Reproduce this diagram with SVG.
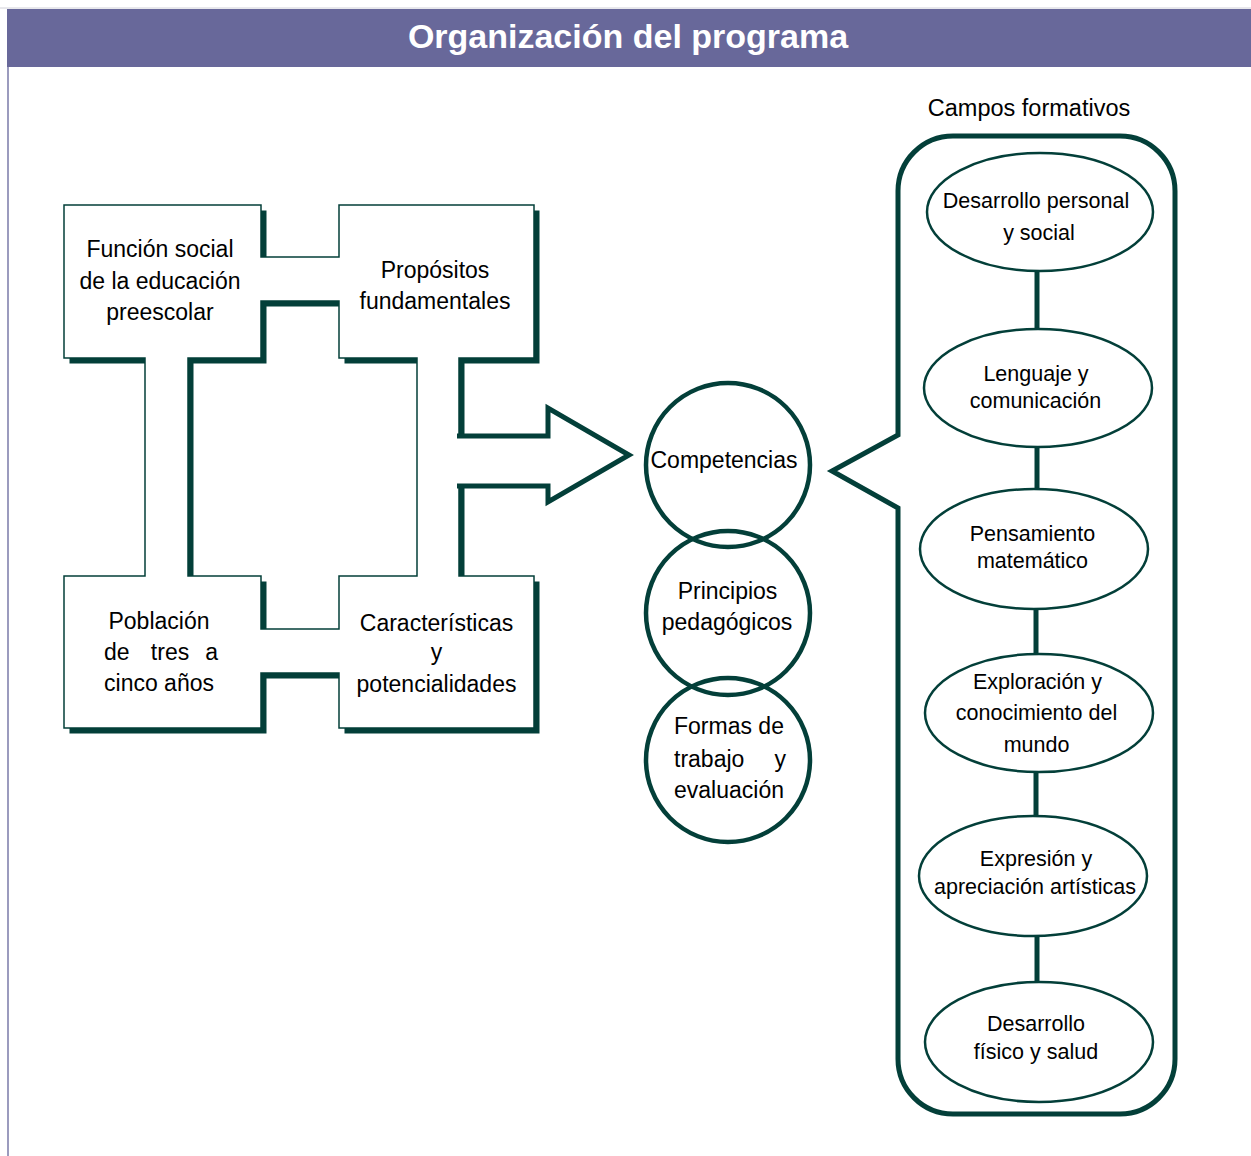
<svg xmlns="http://www.w3.org/2000/svg" width="1251" height="1156" viewBox="0 0 1251 1156">
<defs>
<style>
.t{font-family:"Liberation Sans",Arial,sans-serif;fill:#000;}
.l{font-size:23px;text-anchor:middle;}
.e{font-size:21.5px;text-anchor:middle;}
.ell{fill:#fff;stroke:#033f39;stroke-width:2.5;}
.conn{stroke:#033f39;stroke-width:5;fill:none;}
.circ{fill:none;stroke:#033f39;stroke-width:4.5;}
</style>
<path id="frame" fill-rule="evenodd" d="M64,205 L261,205 L261,257 L339,257 L339,205 L534,205 L534,358 L459,358 L459,576 L534,576 L534,728 L339,728 L339,673 L261,673 L261,728 L64,728 L64,576 L145,576 L145,358 L64,358 Z M188,358 L261,358 L261,301 L339,301 L339,358 L417,358 L417,576 L339,576 L339,629 L261,629 L261,576 L188,576 Z"/>
</defs>
<rect width="1251" height="1156" fill="#fff"/>
<line x1="0" y1="8" x2="1251" y2="8" stroke="#d0d0d8" stroke-width="1"/>
<rect id="header" x="7" y="9" width="1244" height="58" fill="#68689a"/>
<line x1="8" y1="67" x2="8" y2="1156" stroke="#7a7aa8" stroke-width="1.5"/>
<text class="t" x="628" y="48" font-size="34" font-weight="bold" text-anchor="middle" style="fill:#fff">Organización del programa</text>

<g id="left-frame">
<use href="#frame" transform="translate(5.5,5.5)" fill="#033f39"/>
<use href="#frame" fill="#fff" stroke="#033f39" stroke-width="1.5"/>
</g>

<g id="arrow">
<path d="M457,436 L548,436 L548,408 L629,455 L548,502 L548,486 L457,486" fill="#fff" stroke="#033f39" stroke-width="5" stroke-linejoin="miter"/>
</g>

<g id="node-funcion">
<text class="t l" x="160" y="257">Función social</text>
<text class="t l" x="160" y="289">de la educación</text>
<text class="t l" x="160" y="320">preescolar</text>
</g>
<g id="node-propositos">
<text class="t l" x="435" y="278">Propósitos</text>
<text class="t l" x="435" y="309">fundamentales</text>
</g>
<g id="node-poblacion">
<text class="t l" x="159" y="629">Población</text>
<text class="t" font-size="23" x="104" y="660">de</text>
<text class="t" font-size="23" x="170" y="660" text-anchor="middle">tres</text>
<text class="t" font-size="23" x="218" y="660" text-anchor="end">a</text>
<text class="t l" x="159" y="691">cinco años</text>
</g>
<g id="node-caracteristicas">
<text class="t l" x="436.5" y="631">Características</text>
<text class="t l" x="436.5" y="660">y</text>
<text class="t l" x="436.5" y="692">potencialidades</text>
</g>

<g id="node-competencias">
<circle class="circ" cx="728" cy="465" r="82"/>
<text class="t l" x="724" y="468">Competencias</text>
</g>
<g id="node-principios">
<circle class="circ" cx="728" cy="613" r="82"/>
<text class="t l" x="727.5" y="599">Principios</text>
<text class="t l" x="727" y="630">pedagógicos</text>
</g>
<g id="node-formas">
<circle class="circ" cx="728" cy="760" r="82"/>
<text class="t" font-size="23" x="674" y="734">Formas de</text>
<text class="t" font-size="23" x="674" y="767">trabajo</text>
<text class="t" font-size="23" x="786" y="767" text-anchor="end">y</text>
<text class="t" font-size="23" x="674" y="798">evaluación</text>
</g>

<text class="t" x="1029" y="116" font-size="23.5" text-anchor="middle">Campos formativos</text>

<g id="campos-container">
<path d="M898,435 L898,191 A55,55 0 0 1 953,136 L1120,136 A55,55 0 0 1 1175,191 L1175,1059 A55,55 0 0 1 1120,1114 L953,1114 A55,55 0 0 1 898,1059 L898,508 L832,471 Z" fill="none" stroke="#033f39" stroke-width="5" stroke-linejoin="miter"/>
</g>

<g id="connectors">
<line class="conn" x1="1037" y1="271" x2="1037" y2="330"/>
<line class="conn" x1="1037" y1="446" x2="1037" y2="490"/>
<line class="conn" x1="1036" y1="607" x2="1036" y2="655"/>
<line class="conn" x1="1036" y1="772" x2="1036" y2="817"/>
<line class="conn" x1="1037" y1="935" x2="1037" y2="983"/>
</g>

<g id="node-desarrollo-personal">
<ellipse class="ell" cx="1040" cy="212" rx="113" ry="59"/>
<text class="t e" x="1036" y="208">Desarrollo personal</text>
<text class="t e" x="1039" y="240">y social</text>
</g>
<g id="node-lenguaje">
<ellipse class="ell" cx="1038" cy="388" rx="114" ry="59"/>
<text class="t e" x="1036" y="381">Lenguaje y</text>
<text class="t e" x="1035.5" y="408">comunicación</text>
</g>
<g id="node-pensamiento">
<ellipse class="ell" cx="1034" cy="549" rx="114" ry="60"/>
<text class="t e" x="1032.5" y="541">Pensamiento</text>
<text class="t e" x="1032.5" y="568">matemático</text>
</g>
<g id="node-exploracion">
<ellipse class="ell" cx="1039" cy="713" rx="114" ry="59"/>
<text class="t e" x="1037.5" y="689">Exploración y</text>
<text class="t e" x="1036.5" y="720">conocimiento del</text>
<text class="t e" x="1036.5" y="752">mundo</text>
</g>
<g id="node-expresion">
<ellipse class="ell" cx="1033" cy="876" rx="114" ry="60"/>
<text class="t e" x="1036" y="866">Expresión y</text>
<text class="t e" x="1035" y="894">apreciación artísticas</text>
</g>
<g id="node-desarrollo-fisico">
<ellipse class="ell" cx="1039" cy="1042" rx="114" ry="60"/>
<text class="t e" x="1036" y="1031">Desarrollo</text>
<text class="t e" x="1036" y="1059">físico y salud</text>
</g>
</svg>
